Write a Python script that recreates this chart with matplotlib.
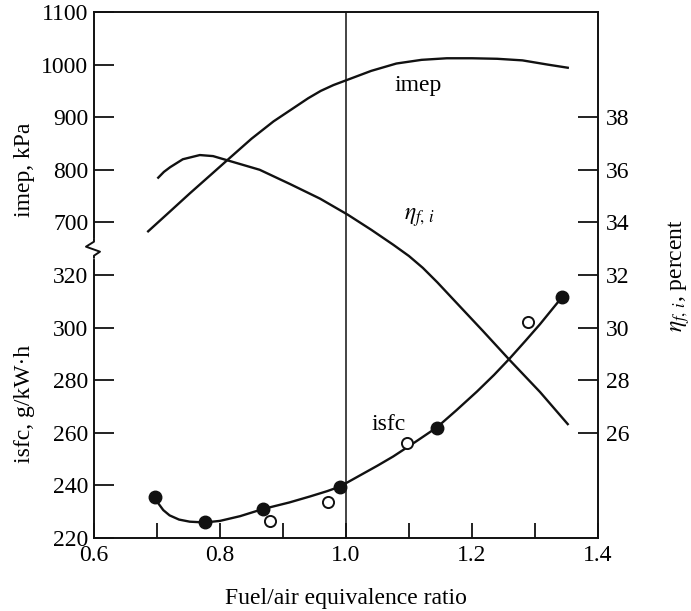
import matplotlib.pyplot as plt
from matplotlib import transforms
from matplotlib.lines import Line2D

plt.rcParams['font.family'] = ['Liberation Serif', 'DejaVu Serif']
plt.rcParams['mathtext.fontset'] = 'stix'

# imep, kPa vs fuel/air equivalence ratio
phi_imep = [0.686, 0.72, 0.752, 0.785, 0.816, 0.85, 0.885, 0.92, 0.94, 0.96, 0.98, 1.0,
            1.04, 1.08, 1.12, 1.16, 1.2, 1.24, 1.28, 1.32, 1.352]
imep = [683, 720, 755, 790, 823, 859, 892, 920, 936, 950, 961, 970,
        988, 1002, 1009, 1012, 1012, 1011, 1008, 1000, 994]

# indicated fuel conversion efficiency, percent
phi_eta = [0.702, 0.711, 0.721, 0.741, 0.768, 0.789, 0.816, 0.863, 0.911, 0.959, 1.003,
           1.04, 1.075, 1.10, 1.122, 1.145, 1.17, 1.217, 1.26, 1.308, 1.352]
eta = [35.7, 35.92, 36.1, 36.4, 36.56, 36.52, 36.33, 36.0, 35.46, 34.9, 34.29,
       33.72, 33.15, 32.72, 32.27, 31.72, 31.08, 29.88, 28.76, 27.55, 26.33]

# isfc fitted curve, g/kW.h
phi_isfc = [0.697, 0.702, 0.71, 0.72, 0.735, 0.752, 0.776, 0.80, 0.832, 0.868, 0.91, 0.943,
            0.97, 0.99, 1.02, 1.05, 1.075, 1.11, 1.144, 1.175, 1.208, 1.235,
            1.26, 1.285, 1.308, 1.343]
isfc = [235.6, 233.2, 230.6, 228.6, 227.0, 226.2, 225.9, 226.5, 228.3, 231.0, 233.5, 235.8,
        237.8, 239.5, 243.5, 247.5, 251.0, 256.5, 262.0, 268.5, 275.7, 282.0,
        288.3, 295.0, 301.3, 311.6]

# measured isfc points
phi_closed = [0.697, 0.776, 0.868, 0.99, 1.144, 1.343]
isfc_closed = [235.6, 226.1, 231.0, 239.5, 262.0, 311.6]
phi_open = [0.879, 0.971, 1.097, 1.289]
isfc_open = [226.5, 233.7, 256.3, 302.0]

x_major = [0.6, 0.8, 1.0, 1.2, 1.4]
x_minor = [0.7, 0.9, 1.1, 1.3]
isfc_ticks = [220, 240, 260, 280, 300, 320]
imep_ticks = [700, 800, 900, 1000, 1100]
eta_ticks = [26, 28, 30, 32, 34, 36, 38]

FS = 17
ink = '#111111'

fig = plt.figure(figsize=(6.91, 6.11), dpi=100)
ax = fig.add_axes([0.136, 0.1195, 0.7294, 0.8609])
ax_imep = ax.twinx()
ax_eta = ax.twinx()

ax.set_xlim(0.6, 1.4)
ax.set_ylim(220, 420)
ax_imep.set_ylim(100, 1100)
ax_eta.set_ylim(22, 42)

for a in (ax_imep, ax_eta):
    for s in a.spines.values():
        s.set_visible(False)
for s in ax.spines.values():
    s.set_linewidth(1.4)
    s.set_color(ink)

# x axis: inward ticks every 0.1
ax.set_xticks(x_major)
ax.set_xticklabels(['0.6', '0.8', '1.0', '1.2', '1.4'])
ax.set_xticks(x_minor, minor=True)
ax.tick_params(axis='x', which='both', direction='in', length=11, width=1.3,
               color=ink, labelsize=FS, pad=5, top=False)

# left axis, lower part: isfc
ax.set_yticks(isfc_ticks)
ax.tick_params(axis='y', direction='in', length=14.5, width=1.3, color=ink,
               labelsize=FS, pad=4, right=False)

# left axis, upper part: imep
ax_imep.set_yticks(imep_ticks)
ax_imep.yaxis.set_ticks_position('left')
ax_imep.yaxis.set_label_position('left')
ax_imep.tick_params(axis='y', direction='in', length=14.5, width=1.3, color=ink,
                    labelsize=FS, pad=4)

# right axis: efficiency
ax_eta.set_yticks(eta_ticks)
ax_eta.tick_params(axis='y', direction='in', length=14.5, width=1.3, color=ink,
                   labelsize=FS, pad=6)

ax.axvline(1.0, color=ink, lw=1.1, zorder=1)

ax_imep.plot(phi_imep, imep, color=ink, lw=1.7)
ax_eta.plot(phi_eta, eta, color=ink, lw=1.7)
ax.plot(phi_isfc, isfc, color=ink, lw=1.7, zorder=3)
ax.plot(phi_closed, isfc_closed, 'o', color=ink, ms=9, zorder=4)
ax.plot(phi_open, isfc_open, 'o', mfc='white', mec=ink, mew=1.4, ms=8, zorder=4)

ax_imep.text(1.114, 961, 'imep', fontsize=FS, ha='center', va='center')
ax_eta.text(1.117, 34.2, r'$\eta_{f,\,i}$', fontsize=17, ha='center', va='center')
ax.text(1.067, 263, 'isfc', fontsize=FS, ha='center', va='center')

# axis titles
left_tr = transforms.blended_transform_factory(ax.transAxes, ax_imep.transData)
ax_imep.text(-0.137, 800, 'imep, kPa', transform=left_tr, rotation=90,
             fontsize=FS, ha='center', va='center')
isfc_tr = transforms.blended_transform_factory(ax.transAxes, ax.transData)
ax.text(-0.137, 271, 'isfc, g/kW\u00b7h', transform=isfc_tr, rotation=90,
        fontsize=FS, ha='center', va='center')
right_tr = transforms.blended_transform_factory(ax.transAxes, ax_eta.transData)
ax_eta.text(1.16, 32, r'$\eta_{f,\,i}$, percent', transform=right_tr, rotation=90,
            fontsize=FS, ha='center', va='center')
ax.set_xlabel('Fuel/air equivalence ratio', fontsize=FS, labelpad=16)

# break mark on the left axis between the isfc and imep scales
bx, by = ax.transData.transform((0.6, 330))
pix = transforms.IdentityTransform()
fig.add_artist(Line2D([bx, bx], [by - 8, by + 8], transform=pix,
                      color='white', lw=3, zorder=10))
fig.add_artist(Line2D([bx, bx, bx - 8, bx + 6, bx, bx],
                      [by + 9, by + 7, by + 2, by - 3, by - 7, by - 9],
                      transform=pix, color=ink, lw=1.4, zorder=11))

fig.savefig('out.png', dpi=100)
